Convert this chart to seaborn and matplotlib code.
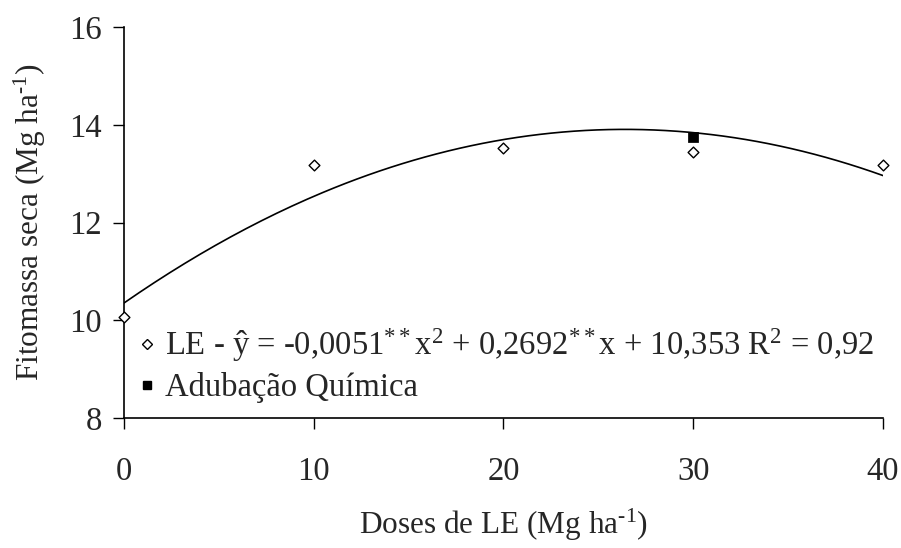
import numpy as np
import pandas as pd
import matplotlib
matplotlib.use("Agg")
import matplotlib.pyplot as plt
import seaborn as sns
from matplotlib.lines import Line2D

# data
doses = [0, 10, 20, 30, 40]
fitomassa = [10.07, 13.17, 13.52, 13.45, 13.18]
quimica_x = [30]
quimica_y = [13.74]
# fitted equation shown in the legend
coef_a, coef_b, coef_c = -0.0051, 0.2692, 10.353

sns.set_theme(style="white")
plt.rcParams['font.family'] = ['Liberation Serif', 'DejaVu Serif']
plt.rcParams['mathtext.fontset'] = 'custom'
plt.rcParams['mathtext.rm'] = 'Liberation Serif'
plt.rcParams['mathtext.it'] = 'Liberation Serif'
plt.rcParams['mathtext.default'] = 'regular'

fig = plt.figure(figsize=(9.01, 5.48), dpi=100)
ax = fig.add_axes([0.1376, 0.2372, 0.8424, 0.7135])

xs = np.linspace(0, 40, 200)
curve = pd.DataFrame({'x': xs, 'y': coef_a * xs**2 + coef_b * xs + coef_c})
sns.lineplot(data=curve, x='x', y='y', color='black', linewidth=1.2, ax=ax)

df = pd.DataFrame({'dose': doses, 'fito': fitomassa})
sns.scatterplot(data=df, x='dose', y='fito', marker='D', s=30, facecolor='white',
                edgecolor='black', linewidth=1.0, ax=ax, zorder=5, clip_on=False)
sns.scatterplot(x=quimica_x, y=quimica_y, marker='s', s=45, color='black',
                edgecolor='black', ax=ax, zorder=4, clip_on=False)

ax.set_xlim(0, 40)
ax.set_ylim(8, 16)
ax.set_xticks([0, 10, 20, 30, 40])
ax.set_yticks([8, 10, 12, 14, 16])
for s in ['top', 'right']:
    ax.spines[s].set_visible(False)
for s in ['left', 'bottom']:
    ax.spines[s].set_color('black')
    ax.spines[s].set_linewidth(1.2)
ax.tick_params(axis='both', direction='out', length=8, width=1.0, color='black',
               labelsize=23.5, left=True, bottom=True)
ax.tick_params(axis='x', pad=20)
ax.tick_params(axis='y', pad=8)

ax.set_xlabel(r'Doses de LE (Mg ha$^{\text{-1}}$)', fontsize=22.5, labelpad=14)
ax.set_ylabel(r'Fitomassa seca (Mg ha$^{\text{-1}}$)', fontsize=22.5, labelpad=15)

handles = [
    Line2D([], [], marker='D', linestyle='none', markerfacecolor='white',
           markeredgecolor='black', markersize=5),
    Line2D([], [], marker='s', linestyle='none', color='black', markersize=6),
]
labels = [
    'LE - ŷ = -0,0051$^{**}$x$^{2}$ + 0,2692$^{**}$x + 10,353 R$^{2}$ = 0,92',
    'Adubação Química',
]
ax.legend(handles, labels, loc='lower left', bbox_to_anchor=(0.0, 0.0),
          frameon=False, fontsize=23.5, handlelength=0.5, handletextpad=0.3,
          labelspacing=0.25, borderaxespad=0.05)

fig.savefig('out.png', dpi=100)
